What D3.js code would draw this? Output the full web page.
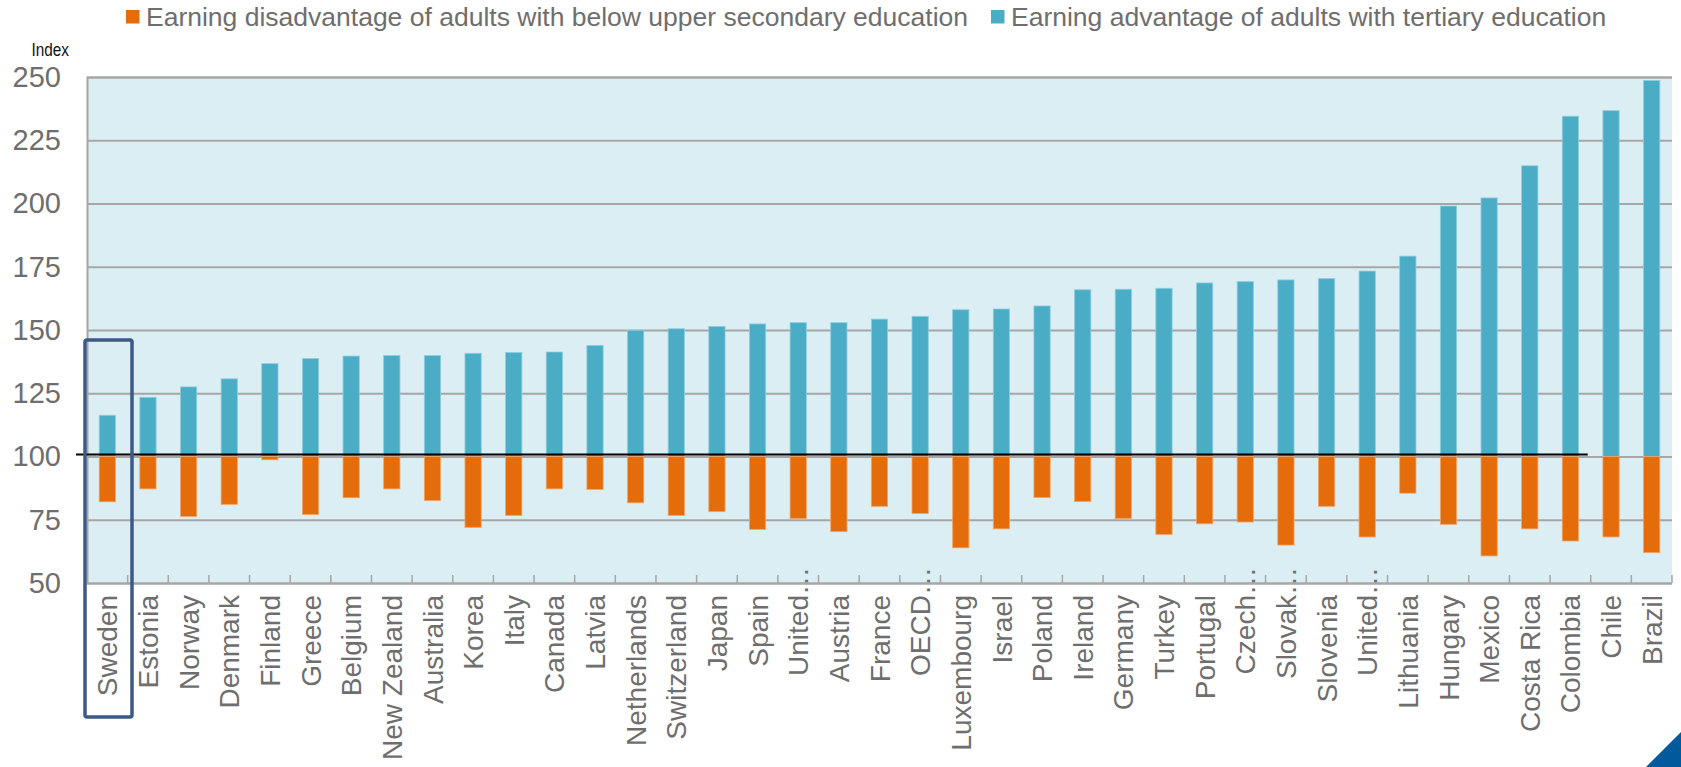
<!DOCTYPE html>
<html>
<head>
<meta charset="utf-8">
<script src="https://cdn.jsdelivr.net/npm/d3@7"></script>
<style>
  body { margin: 0; background: #fff; }
  svg { display: block; font-family: "Liberation Sans", Arial, sans-serif; }
</style>
</head>
<body>
<svg id="chart" width="1681" height="767"></svg>
<script>
// Chart data
var countries = ["Sweden", "Estonia", "Norway", "Denmark", "Finland", "Greece", "Belgium", "New Zealand",
    "Australia", "Korea", "Italy", "Canada", "Latvia", "Netherlands", "Switzerland", "Japan", "Spain",
    "United…", "Austria", "France", "OECD…", "Luxembourg", "Israel", "Poland", "Ireland", "Germany",
    "Turkey", "Portugal", "Czech…", "Slovak…", "Slovenia", "United…", "Lithuania", "Hungary", "Mexico",
    "Costa Rica", "Colombia", "Chile", "Brazil"];
var tertiary = [116.3, 123.4, 127.5, 130.7, 136.7, 138.7, 139.7, 139.9, 139.9, 140.8, 141.1, 141.3, 143.9,
    149.9, 150.5, 151.4, 152.4, 152.9, 152.9, 154.3, 155.4, 158.0, 158.3, 159.5, 165.9, 166.1, 166.5, 168.6,
    169.1, 169.8, 170.3, 173.3, 179.2, 199.0, 202.2, 214.9, 234.5, 236.7, 248.6];
var belowUpper = [82.1, 87.2, 76.3, 81.1, 98.7, 77.1, 83.7, 87.2, 82.6, 72.0, 76.7, 87.2, 87.0, 81.7, 76.7,
    78.2, 71.2, 75.5, 70.3, 80.3, 77.5, 63.9, 71.4, 83.8, 82.2, 75.5, 69.2, 73.4, 74.1, 65.0, 80.3, 68.2,
    85.5, 73.2, 60.7, 71.4, 66.6, 68.2, 62.0];
var yTicks = [50, 75, 100, 125, 150, 175, 200, 225, 250];
var legendLabels = ["Earning disadvantage of adults with below upper secondary education",
    "Earning advantage of adults with tertiary education"];

var orange = "#E46C0A";
var blue = "#4BACC6";
var textGray = "#6e6e6e";

// plot area (note: "top" is reserved on window, so use plot* names)
var plotLeft = 87, plotRight = 1672, plotTop = 77, plotBottom = 583;

var svg = d3.select("#chart");

var xScale = d3.scaleBand()
    .domain(d3.range(countries.length))
    .range([plotLeft, plotRight])
    .paddingInner(0.6)
    .paddingOuter(0.3);

var yScale = d3.scaleLinear()
    .domain([50, 250])
    .range([plotBottom, plotTop]);

// plot background
svg.append("rect")
    .attr("x", plotLeft)
    .attr("y", plotTop)
    .attr("width", plotRight - plotLeft)
    .attr("height", plotBottom - plotTop)
    .attr("fill", "#DBEEF4");

// y axis with gridlines
var yAxis = svg.append("g")
    .attr("transform", "translate(" + plotLeft + ",0)")
    .call(d3.axisLeft(yScale).tickValues(yTicks).tickSize(-(plotRight - plotLeft)).tickPadding(26));

yAxis.select(".domain").attr("stroke", "#A6A6A6").attr("stroke-width", 2);
yAxis.selectAll(".tick line").attr("stroke", "#A6A6A6").attr("stroke-width", 2);
yAxis.selectAll(".tick text")
    .attr("fill", textGray)
    .style("font-size", "29px")
    .style("font-family", "'Liberation Sans', Arial, sans-serif");

// category tick marks on the x axis
var step = xScale.step();
svg.append("g")
    .selectAll("line")
    .data(d3.range(1, countries.length + 1))
    .enter()
    .append("line")
    .attr("x1", function (d) { return xScale(d - 1) + xScale.bandwidth() / 2 + step / 2; })
    .attr("x2", function (d) { return xScale(d - 1) + xScale.bandwidth() / 2 + step / 2; })
    .attr("y1", plotBottom)
    .attr("y2", plotBottom - 8)
    .attr("stroke", "#A6A6A6")
    .attr("stroke-width", 1.5);

// tertiary bars (above 100)
svg.append("g")
    .selectAll("rect")
    .data(tertiary)
    .enter()
    .append("rect")
    .attr("x", function (d, i) { return xScale(i); })
    .attr("y", function (d) { return yScale(d); })
    .attr("width", xScale.bandwidth())
    .attr("height", function (d) { return yScale(100) - yScale(d); })
    .attr("fill", blue)
    .attr("stroke", "#8ECDDD")
    .attr("stroke-width", 0.8);

// below upper secondary bars (under 100)
svg.append("g")
    .selectAll("rect")
    .data(belowUpper)
    .enter()
    .append("rect")
    .attr("x", function (d, i) { return xScale(i); })
    .attr("y", yScale(100))
    .attr("width", xScale.bandwidth())
    .attr("height", function (d) { return yScale(d) - yScale(100); })
    .attr("fill", orange)
    .attr("stroke", "#F2A468")
    .attr("stroke-width", 0.8);

// black reference line at 100, stopping after Colombia
var lineEnd = xScale(36) + xScale.bandwidth() / 2 + step / 2 - 3;
svg.append("line")
    .attr("x1", plotLeft - 11)
    .attr("x2", lineEnd)
    .attr("y1", yScale(100) - 2)
    .attr("y2", yScale(100) - 2)
    .attr("stroke", "#000")
    .attr("stroke-width", 2);

// x labels, rotated
var labelEnd = plotBottom + 12;
var labels = svg.append("g")
    .selectAll("g")
    .data(countries)
    .enter()
    .append("g")
    .attr("transform", function (d, i) {
        return "translate(" + (xScale(i) + xScale.bandwidth() / 2) + ",0) rotate(-90)";
    });

labels.append("text")
    .attr("x", -labelEnd)
    .attr("dy", "0.36em")
    .attr("text-anchor", "end")
    .attr("fill", textGray)
    .style("font-size", "28px")
    .text(function (d) { return d.replace("…", ""); });

labels.filter(function (d) { return d.indexOf("…") >= 0; })
    .append("text")
    .attr("x", -labelEnd)
    .attr("dy", "0.36em")
    .attr("text-anchor", "start")
    .attr("fill", textGray)
    .style("font-size", "28px")
    .text("…");

// Sweden highlight box
svg.append("rect")
    .attr("x", 85)
    .attr("y", 340)
    .attr("width", 47)
    .attr("height", 377)
    .attr("rx", 2)
    .attr("fill", "none")
    .attr("stroke", "#3C5A87")
    .attr("stroke-width", 3.5);

// "Index" label (narrow face in the original)
svg.append("text")
    .attr("x", 31.5)
    .attr("y", 55.5)
    .attr("fill", "#111")
    .attr("textLength", 37.5)
    .attr("lengthAdjust", "spacingAndGlyphs")
    .style("font-size", "19px")
    .text("Index");

// legend
var legendX = [126, 991];
var legendColors = [orange, blue];
var legend = svg.append("g")
    .selectAll("g")
    .data(legendLabels)
    .enter()
    .append("g")
    .attr("transform", function (d, i) { return "translate(" + legendX[i] + ",0)"; });

legend.append("rect")
    .attr("x", 0)
    .attr("y", 10)
    .attr("width", 13.5)
    .attr("height", 13.5)
    .attr("fill", function (d, i) { return legendColors[i]; });

legend.append("text")
    .attr("x", 20)
    .attr("y", 26)
    .attr("fill", textGray)
    .style("font-size", "26.5px")
    .text(function (d) { return d; });

// corner mark
svg.append("path")
    .attr("d", "M1646,767 L1681,732 L1681,767 Z")
    .attr("fill", "#005A9C");
</script>
</body>
</html>
